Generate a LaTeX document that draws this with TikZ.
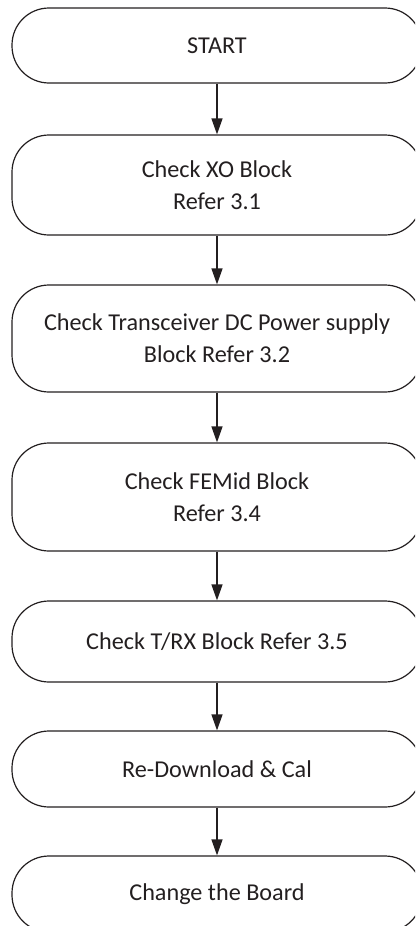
\documentclass[tikz,border=0pt]{standalone}
\usepackage{fontspec}
\setsansfont{Carlito}
\usepackage{tikz}
\usetikzlibrary{arrows.meta}
\definecolor{ink}{HTML}{231F20}

\begin{document}
\begin{tikzpicture}[
font=\sffamily\fontsize{24.2}{32}\selectfont,
x=1pt, y=-1pt,
box/.style={draw=ink, line width=1.2pt, rounded corners=37pt,
  minimum width=410pt, align=center, text=ink, inner sep=0pt},
flow/.style={-{Triangle[length=16pt,width=11pt]}, line width=1.3pt, draw=ink}]
    % Page frame
    \useasboundingbox (0,0) rectangle (415,926);
    \clip (0,0) rectangle (415,926);

    % Steps
    \node (start) [box, minimum height=75pt] at (217,45.5) {START};
    \node (xo) [box, minimum height=100pt] at (217,185)
        {Check XO Block\\Refer 3.1};
    \node (dcpower) [box, minimum height=107pt] at (217,338.5)
        {Check Transceiver DC Power supply\\Block Refer 3.2};
    \node (femid) [box, minimum height=108pt] at (217,497)
        {Check FEMid Block\\Refer 3.4};
    \node (trx) [box, minimum height=81pt] at (217,641.5)
        {Check T/RX Block Refer 3.5};
    \node (redl) [box, minimum height=76pt] at (217,769)
        {Re-Download \& Cal};
    \node (board) [box, minimum height=76pt] at (217,894)
        {Change the Board};

    % Arrows
    \draw[flow] (start) -- (xo);
    \draw[flow] (xo) -- (dcpower);
    \draw[flow] (dcpower) -- (femid);
    \draw[flow] (femid) -- (trx);
    \draw[flow] (trx) -- (redl);
    \draw[flow] (redl) -- (board);

\end{tikzpicture}
\end{document}
